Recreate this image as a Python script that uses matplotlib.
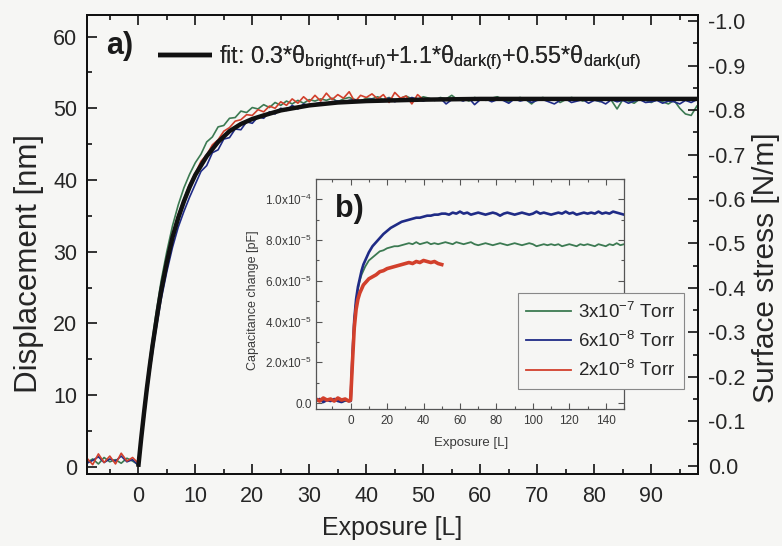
import numpy as np
import matplotlib
matplotlib.use("Agg")
import matplotlib.pyplot as plt
from matplotlib.ticker import MultipleLocator, FixedLocator, FixedFormatter

plt.rcParams['font.family'] = ['Liberation Sans', 'DejaVu Sans']
plt.rcParams['mathtext.fontset'] = 'custom'
plt.rcParams['mathtext.rm'] = 'Liberation Sans'
plt.rcParams['mathtext.it'] = 'Liberation Sans:italic'
plt.rcParams['mathtext.bf'] = 'Liberation Sans:bold'
plt.rcParams['axes.unicode_minus'] = False

BG = '#f6f6f4'
TXT = '#262626'
C_GREEN = '#3c7a52'
C_BLUE = '#1f2b86'
C_RED = '#d2402c'

# ---------------- main panel a): displacement vs exposure ----------------
exp_main = np.arange(-9, 99)  # exposure [L], 1 L steps
exp_red = np.arange(-9, 51)

disp_3e7 = [0.6, 1.1, 0.4, 1.3, 0.7, 1.0, 0.5, 1.2, 0.8,
            0.3,
            8.2, 15.0, 20.8, 25.9, 30.0, 33.6, 36.5, 38.9, 40.8, 42.4,
            43.6, 45.3, 46.0, 47.4, 47.6, 48.6, 48.7, 49.6, 49.4, 50.1,
            49.9, 50.5, 50.1, 50.8, 50.4, 51.0, 50.6, 51.1, 50.7, 51.2,
            51.0, 51.3, 51.1, 51.4, 50.9, 51.3, 51.5, 51.2, 51.0, 51.4,
            51.3, 51.6, 51.2, 51.5, 51.1, 51.4, 51.7, 51.3, 51.2, 51.6,
            51.4, 51.1, 51.5, 51.3, 51.8, 51.2, 51.4, 51.0, 51.5, 51.3,
            51.1, 51.4, 51.6, 51.2, 50.9, 51.3, 51.5, 51.2, 50.6, 51.3,
            51.5, 51.1, 51.4, 50.8, 51.2, 51.5, 51.3, 51.0, 51.4, 51.2,
            50.9, 51.3, 51.1, 49.9, 51.2, 51.0, 50.7, 51.3, 51.1, 50.8,
            51.2, 50.9, 50.6, 51.1, 50.0, 49.2, 49.0, 50.3]

disp_6e8 = [0.5, 0.9, 1.4, 0.6, 1.1, 0.8, 1.5, 0.7, 1.0,
            0.2,
            7.0, 13.2, 18.6, 23.3, 27.2, 30.6, 33.4, 35.6, 37.6, 39.4,
            41.2, 42.0, 43.8, 44.2, 45.7, 45.9, 47.1, 47.0, 48.1, 47.9,
            48.8, 48.6, 49.5, 49.2, 50.0, 49.7, 50.4, 49.9, 50.6, 50.3,
            50.6, 50.8, 50.7, 50.9, 51.0, 50.8, 51.1, 51.2, 51.0, 51.1,
            51.3, 51.0, 51.2, 51.4, 50.9, 51.3, 51.1, 51.5, 51.2, 51.0,
            51.3, 51.1, 51.4, 50.6, 51.2, 51.3, 51.0, 51.4, 50.5, 51.2,
            51.3, 50.9, 51.2, 51.1, 50.7, 51.3, 51.0, 51.2, 50.8, 51.1,
            51.2, 50.9, 50.6, 51.1, 51.3, 50.8, 51.0, 51.2, 50.7, 51.1,
            51.0, 50.6, 51.2, 50.9, 51.1, 50.7, 51.0, 51.2, 50.8, 50.9,
            51.1, 50.7, 51.0, 50.9, 50.6, 51.1, 50.8, 51.2]

disp_2e8 = [1.2, 0.3, 1.8, 0.6, 1.5, 0.4, 1.9, 0.8, 1.3,
            0.5,
            6.5, 13.8, 19.6, 24.8, 29.0, 32.5, 35.2, 37.3, 39.4, 40.9,
            42.6, 43.5, 44.9, 45.6, 46.8, 47.3, 48.2, 48.4, 49.1, 49.0,
            49.8, 49.5, 50.3, 50.0, 50.9, 50.4, 51.3, 50.7, 51.6, 50.9,
            51.8, 51.0, 52.1, 51.2, 51.9, 51.4, 52.3, 50.9, 51.8, 51.5,
            52.0, 51.3, 51.9, 50.8, 52.2, 51.4, 51.7, 50.6, 51.9, 51.2]

fit_exp = [0, 0.5, 1, 1.5, 2, 2.5, 3, 3.5, 4, 5, 6, 7, 8, 9, 10, 12, 14, 16,
           18, 20, 22, 25, 30, 35, 40, 50, 60, 70, 80, 90, 98.2]
fit_disp = [0, 3.9, 7.5, 10.9, 14.0, 16.9, 19.5, 22.1, 24.5, 28.5, 32.0, 34.7,
            37.0, 39.0, 40.7, 43.3, 45.3, 46.8, 47.8, 48.5, 49.0, 49.7, 50.4,
            50.8, 51.0, 51.2, 51.3, 51.3, 51.3, 51.3, 51.3]

main_xticks = [0, 10, 20, 30, 40, 50, 60, 70, 80, 90]
main_yticks = [0, 10, 20, 30, 40, 50, 60]
stress_ticks = [0.0, -0.1, -0.2, -0.3, -0.4, -0.5, -0.6, -0.7, -0.8, -0.9, -1.0]

# ---------------- inset b): capacitance change vs exposure ----------------
exp_cap = np.concatenate([np.arange(-19, 0, 2), np.arange(0, 11, 1), np.arange(12, 151, 2)])
exp_cap_red = exp_cap[exp_cap <= 50]

cap_3e7 = [0.1, 0.15, 0.1, 0.2, 0.1, 0.1, 0.15, 0.05, 0.1, 0.15,
           0.1, 2.3, 4.0, 5.0, 5.6, 6.0, 6.3, 6.5, 6.7, 6.85, 7.0,
           7.15, 7.3, 7.45, 7.5, 7.6, 7.65, 7.7, 7.7, 7.75, 7.8,
           7.85, 7.8, 7.9, 7.8, 7.85, 7.9, 7.8, 7.85, 7.8, 7.85,
           7.9, 7.85, 7.8, 7.9, 7.85, 7.8, 7.85, 7.9, 7.8, 7.75,
           7.8, 7.85, 7.8, 7.75, 7.8, 7.85, 7.8, 7.75, 7.8, 7.85,
           7.8, 7.75, 7.8, 7.85, 7.8, 7.7, 7.75, 7.8, 7.75, 7.8,
           7.75, 7.8, 7.7, 7.75, 7.8, 7.75, 7.7, 7.8, 7.75, 7.8,
           7.75, 7.7, 7.8, 7.75, 7.7, 7.8, 7.75, 7.85, 7.75, 7.8]

cap_6e8 = [0.1, 0.2, 0.05, 0.15, 0.1, 0.2, 0.1, 0.05, 0.15, 0.1,
           0.1, 2.3, 4.1, 5.1, 5.7, 6.1, 6.5, 6.8, 7.0, 7.2, 7.4,
           7.7, 7.9, 8.1, 8.3, 8.45, 8.6, 8.7, 8.8, 8.9, 8.95,
           9.0, 9.05, 9.1, 9.1, 9.15, 9.2, 9.2, 9.25, 9.25, 9.3,
           9.3, 9.25, 9.35, 9.3, 9.4, 9.3, 9.35, 9.25, 9.3, 9.35,
           9.3, 9.25, 9.3, 9.35, 9.3, 9.2, 9.3, 9.35, 9.3, 9.25,
           9.3, 9.35, 9.3, 9.25, 9.3, 9.4, 9.3, 9.35, 9.3, 9.25,
           9.3, 9.35, 9.3, 9.4, 9.3, 9.35, 9.25, 9.3, 9.35, 9.3,
           9.35, 9.3, 9.4, 9.3, 9.35, 9.3, 9.4, 9.35, 9.3, 9.25]

cap_2e8 = [0.2, 0.1, 0.25, 0.15, 0.2, 0.1, 0.25, 0.15, 0.2, 0.1,
           0.15, 2.0, 3.7, 4.6, 5.1, 5.4, 5.6, 5.8, 5.9, 6.0, 6.1,
           6.2, 6.3, 6.45, 6.5, 6.6, 6.65, 6.7, 6.75, 6.8, 6.85,
           6.9, 6.85, 6.95, 6.9, 7.0, 6.95, 6.9, 6.95, 6.85, 6.8]
CAP_UNIT = 1e-5  # the cap_* lists are in units of 1e-5 pF

cap_xticks = [0, 20, 40, 60, 80, 100, 120, 140]
cap_yticks = [0.0, 2e-5, 4e-5, 6e-5, 8e-5, 1e-4]
cap_ytick_labels = ['0.0', r'2.0x10$^{-5}$', r'4.0x10$^{-5}$', r'6.0x10$^{-5}$',
                    r'8.0x10$^{-5}$', r'1.0x10$^{-4}$']

series_labels = [r'3x10$^{-7}$ Torr', r'6x10$^{-8}$ Torr', r'2x10$^{-8}$ Torr']
fit_label = (r'fit: 0.3*θ$_{\mathrm{bright(f{+}uf)}}$+1.1*θ$_{\mathrm{dark(f)}}$'
             r'+0.55*θ$_{\mathrm{dark(uf)}}$')

# ---------------- figure ----------------
W, H = 782, 546
fig = plt.figure(figsize=(W / 100, H / 100), dpi=100, facecolor=BG)

ax = fig.add_axes([87 / W, 72 / H, 611 / W, 459 / H], facecolor=BG)
ax.plot(exp_main, disp_3e7, color=C_GREEN, lw=1.2, zorder=2)
ax.plot(exp_main, disp_6e8, color=C_BLUE, lw=1.2, zorder=3)
ax.plot(exp_red, disp_2e8, color=C_RED, lw=1.2, zorder=4)
fit_line, = ax.plot(fit_exp, fit_disp, color='#111111', lw=3.2, zorder=5,
                    solid_capstyle='butt')

ax.set_xlim(-9, 98.2)
ax.set_ylim(-1, 63)
ax.xaxis.set_major_locator(FixedLocator(main_xticks))
ax.xaxis.set_minor_locator(MultipleLocator(5))
ax.yaxis.set_major_locator(FixedLocator(main_yticks))
ax.yaxis.set_minor_locator(MultipleLocator(5))
ax.tick_params(which='both', direction='in', top=True, right=False,
               width=1.2, colors='#111111', labelcolor=TXT, labelsize=15.5)
ax.tick_params(which='major', length=7)
ax.tick_params(which='minor', length=3.5)
ax.tick_params(axis='x', pad=9)
ax.tick_params(axis='y', pad=7)
for sp in ax.spines.values():
    sp.set_linewidth(1.4)
    sp.set_color('#111111')

ax2 = ax.twinx()
ax2.set_ylim(0.018, -1.0135)
ax2.yaxis.set_major_locator(FixedLocator(stress_ticks))
ax2.yaxis.set_major_formatter(FixedFormatter(['%.1f' % v for v in stress_ticks]))
ax2.yaxis.set_minor_locator(MultipleLocator(0.05))
ax2.tick_params(which='both', direction='in', width=1.2, colors='#111111',
                labelcolor=TXT, labelsize=15.5, pad=7)
ax2.tick_params(which='major', length=7)
ax2.tick_params(which='minor', length=3.5)
for sp in ax2.spines.values():
    sp.set_linewidth(1.4)
    sp.set_color('#111111')

fig.text(29 / W, 1 - 263 / H, 'Displacement [nm]', rotation=90, ha='center',
         va='center', fontsize=22.5, color=TXT)
fig.text(766 / W, 1 - 268 / H, 'Surface stress [N/m]', rotation=90, ha='center',
         va='center', fontsize=21.5, color=TXT)
fig.text(392 / W, 1 - 528 / H, 'Exposure [L]', ha='center', va='center',
         fontsize=18, color=TXT)
fig.text(120 / W, 1 - 46 / H, 'a)', ha='center', va='center', fontsize=22,
         fontweight='bold', color='#1a1a1a')

fit_leg = ax.legend([fit_line], [fit_label], loc='center left',
                    bbox_to_anchor=(158 / W, 1 - 58 / H),
                    bbox_transform=fig.transFigure, frameon=False, fontsize=16.8,
                    handlelength=2.3, handletextpad=0.3, borderpad=0,
                    borderaxespad=0, labelcolor=TXT)
ax.add_artist(fit_leg)

# inset
axi = fig.add_axes([316 / W, (H - 409) / H, 308 / W, 230 / H], facecolor=BG)
li1, = axi.plot(exp_cap, np.array(cap_3e7) * CAP_UNIT, color=C_GREEN, lw=1.3)
li2, = axi.plot(exp_cap, np.array(cap_6e8) * CAP_UNIT, color=C_BLUE, lw=1.9)
li3, = axi.plot(exp_cap_red, np.array(cap_2e8) * CAP_UNIT, color=C_RED, lw=2.6)
axi.set_xlim(-19, 150)
axi.set_ylim(-0.29e-5, 1.1e-4)
axi.xaxis.set_major_locator(FixedLocator(cap_xticks))
axi.xaxis.set_minor_locator(MultipleLocator(10))
axi.yaxis.set_major_locator(FixedLocator(cap_yticks))
axi.yaxis.set_major_formatter(FixedFormatter(cap_ytick_labels))
axi.yaxis.set_minor_locator(MultipleLocator(1e-5))
axi.tick_params(which='both', direction='in', top=True, right=True, width=0.8,
                colors='#555555', labelcolor='#3a3a3a', labelsize=8.5)
axi.tick_params(which='major', length=4)
axi.tick_params(which='minor', length=2)
axi.tick_params(axis='x', pad=4)
axi.tick_params(axis='y', pad=3)
for sp in axi.spines.values():
    sp.set_linewidth(0.9)
    sp.set_color('#555555')
fig.text(253 / W, 1 - 300 / H, 'Capacitance change [pF]', rotation=90,
         ha='center', va='center', fontsize=9, color='#3a3a3a')
fig.text(471 / W, 1 - 443 / H, 'Exposure [L]', ha='center', va='center',
         fontsize=9.5, color='#3a3a3a')
fig.text(349 / W, 1 - 209 / H, 'b)', ha='center', va='center', fontsize=22,
         fontweight='bold', color='#1a1a1a')

leg = fig.legend([li1, li2, li3], series_labels, loc='upper left',
                 bbox_to_anchor=(518 / W, 1 - 293 / H), fontsize=13.5,
                 handlelength=2.4, handletextpad=0.35, labelspacing=0.5,
                 borderpad=0.45, borderaxespad=0, fancybox=False, framealpha=1,
                 facecolor=BG, edgecolor='#888888', labelcolor=TXT)
leg.get_frame().set_linewidth(0.8)
for h in leg.get_lines():
    h.set_linewidth(1.3)

fig.savefig('out.png', dpi=100, facecolor=BG)
